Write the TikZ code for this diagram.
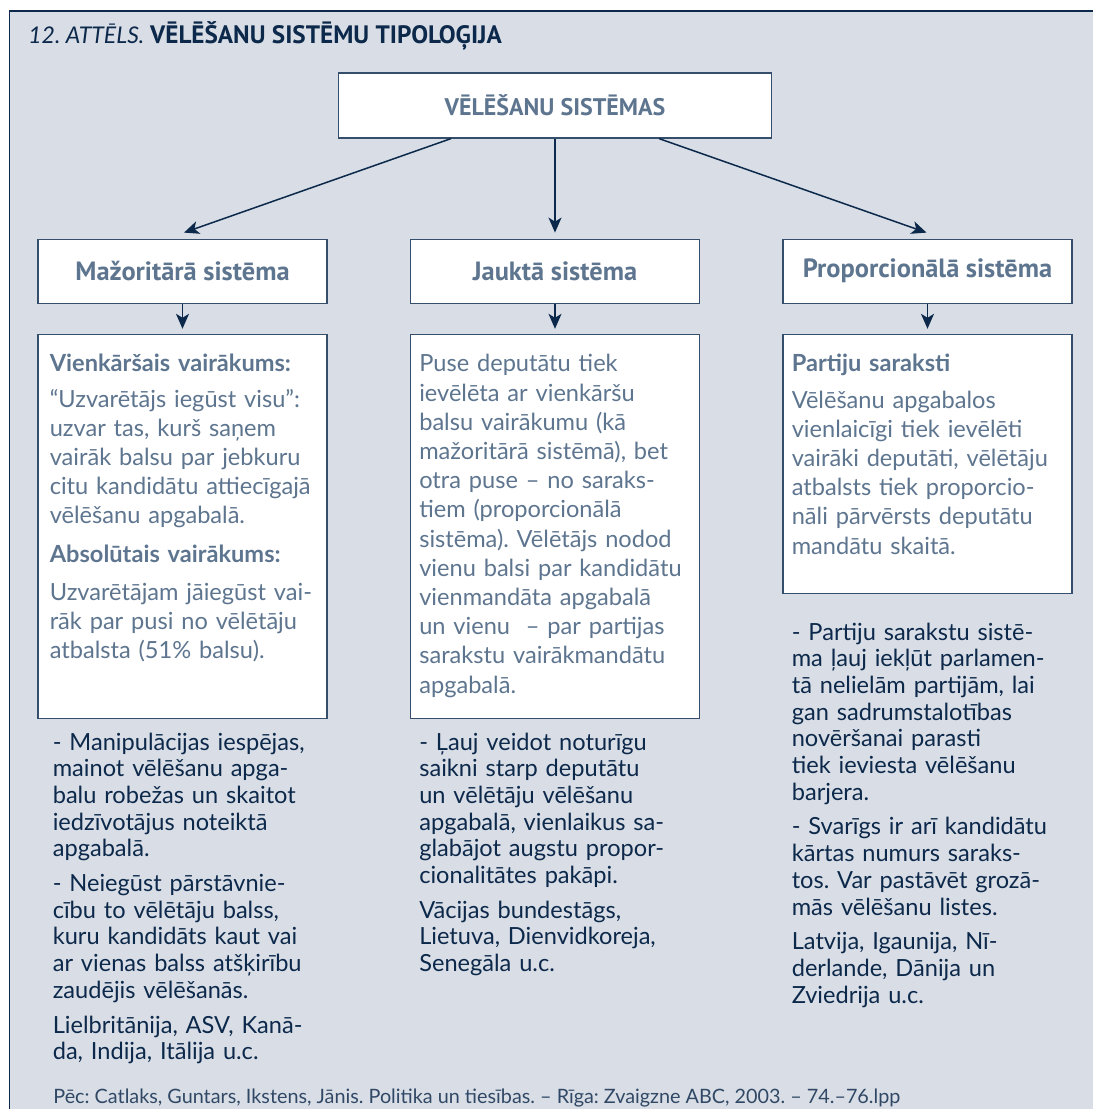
\documentclass[tikz,border=0pt]{standalone}
\usepackage{fontspec}
\setmainfont{Lato}
\newfontfamily\headfont{PT Sans}
\usetikzlibrary{arrows.meta, positioning}
\definecolor{panelbg}{RGB}{217,222,230}
\definecolor{navy}{RGB}{12,40,74}
\definecolor{slate}{RGB}{94,117,143}
\definecolor{framec}{RGB}{52,78,108}
\frenchspacing

\begin{document}
\begin{tikzpicture}[
  x=0.5pt, y=-0.5pt,
  >={Stealth[length=7.5pt,width=6.5pt,inset=2pt]},
  node distance=15pt,
  headbox/.style={
    rectangle,
    draw=framec, line width=0.6pt,
    fill=white,
    inner sep=0pt,
    text=slate,
    font=\headfont\bfseries\fontsize{12}{14}\selectfont
  },
  catbox/.style={headbox, minimum width=144.5pt, minimum height=32pt,
    font=\headfont\bfseries\fontsize{13.2}{15}\selectfont},
  descbox/.style={
    rectangle,
    draw=framec, line width=0.6pt,
    fill=white,
    minimum width=144.5pt,
    inner sep=0pt
  },
  desctext/.style={
    anchor=base west, inner sep=0pt,
    text width=139pt, align=left,
    text=slate,
    font=\fontsize{11.8}{14.6}\selectfont
  },
  notetext/.style={
    anchor=base west, inner sep=0pt,
    text width=139pt, align=left,
    text=navy,
    font=\fontsize{11.8}{13.35}\selectfont
  },
  arrow/.style={->, line width=0.75pt, draw=navy}
]
\useasboundingbox (0,0) rectangle (1093,1109);

% Panel
\fill[panelbg] (9.5,11) rectangle (1093,1109);
\draw[navy, line width=0.75pt] (9.5,1109) -- (9.5,11) -- (1093,11);

% Title
\node[anchor=base west, inner sep=0pt, text=navy, font=\fontsize{11.5}{14}\selectfont] (title) at (28,43)
  {\textit{12. ATTĒLS.} {\headfont\bfseries\fontsize{12.6}{14}\selectfont VĒLĒŠANU SISTĒMU TIPOLOĢIJA}};

% Top node
\node[headbox, minimum width=216.5pt, minimum height=32.5pt] (sys) at (555,105.5) {VĒLĒŠANU SISTĒMAS};

% Three systems
\node[catbox, below=50pt of sys, xshift=-186.25pt] (maj) {Mažoritārā sistēma};
\node[catbox, below=50pt of sys] (mix) {Jauktā sistēma};
\node[catbox, below=50pt of sys, xshift=186.25pt] (prop) {Proporcionālā sistēma};

% Description frames
\node[descbox, minimum height=192pt, below=of maj] (majframe) {};
\node[descbox, minimum height=192pt, below=of mix] (mixframe) {};
\node[descbox, minimum height=129.5pt, below=of prop] (propframe) {};

% Texts in frames
\node[desctext] (majtext) at ([xshift=6pt, yshift=-19pt]majframe.north west) {%
\textbf{Vienkāršais vairākums:}\\[3pt]
“Uzvarētājs iegūst visu”:\\
uzvar tas, kurš saņem\\
vairāk balsu par jebkuru\\
citu kandidātu attiecīgajā\\
vēlēšanu apgabalā.\\[4.5pt]
\textbf{Absolūtais vairākums:}\\[4.5pt]
Uzvarētājam jāiegūst vai-\\
rāk par pusi no vēlētāju\\
atbalsta (51\% balsu).%
};

\node[desctext] (mixtext) at ([xshift=4.5pt, yshift=-19pt]mixframe.north west) {%
Puse deputātu tiek\\
ievēlēta ar vienkāršu\\
balsu vairākumu (kā\\
mažoritārā sistēmā), bet\\
otra puse – no saraks-\\
tiem (proporcionālā\\
sistēma). Vēlētājs nodod\\
vienu balsi par kandidātu\\
vienmandāta apgabalā\\
un vienu~ – par partijas\\
sarakstu vairākmandātu\\
apgabalā.%
};

\node[desctext] (proptext) at ([xshift=4.5pt, yshift=-19pt]propframe.north west) {%
\textbf{Partiju saraksti}\\[3.5pt]
Vēlēšanu apgabalos\\
vienlaicīgi tiek ievēlēti\\
vairāki deputāti, vēlētāju\\
atbalsts tiek proporcio-\\
nāli pārvērsts deputātu\\
mandātu skaitā.%
};

% Notes below frames
\node[notetext] (majnote) at ([xshift=7.5pt, yshift=-15.5pt]majframe.south west) {%
- Manipulācijas iespējas,\\
mainot vēlēšanu apga-\\
balu robežas un skaitot\\
iedzīvotājus noteiktā\\
apgabalā.\\[4pt]
- Neiegūst pārstāvnie-\\
cību to vēlētāju balss,\\
kuru kandidāts kaut vai\\
ar vienas balss atšķirību\\
zaudējis vēlēšanās.\\[4pt]
Lielbritānija, ASV, Kanā-\\
da, Indija, Itālija u.c.%
};

\node[notetext] (mixnote) at ([xshift=4.5pt, yshift=-15.5pt]mixframe.south west) {%
- Ļauj veidot noturīgu\\
saikni starp deputātu\\
un vēlētāju vēlēšanu\\
apgabalā, vienlaikus sa-\\
glabājot augstu propor-\\
cionalitātes pakāpi.\\[4pt]
Vācijas bundestāgs,\\
Lietuva, Dienvidkoreja,\\
Senegāla u.c.%
};

\node[notetext] (propnote) at ([xshift=4.5pt, yshift=-23pt]propframe.south west) {%
- Partiju sarakstu sistē-\\
ma ļauj iekļūt parlamen-\\
tā nelielām partijām, lai\\
gan sadrumstalotības\\
novēršanai parasti\\
tiek ieviesta vēlēšanu\\
barjera.\\[4pt]
- Svarīgs ir arī kandidātu\\
kārtas numurs saraks-\\
tos. Var pastāvēt grozā-\\
mās vēlēšanu listes.\\[4pt]
Latvija, Igaunija, Nī-\\
derlande, Dānija un\\
Zviedrija u.c.%
};

% Source
\node[anchor=base west, inner sep=0pt, text=navy!85, font=\fontsize{9.9}{12}\selectfont] (source) at (53,1103)
  {Pēc: Catlaks, Guntars, Ikstens, Jānis. Politika un tiesības. – Rīga: Zvaigzne ABC, 2003. – 74.–76.lpp};

% Arrows
\draw[arrow] ([xshift=-52pt]sys.south) -- ([xshift=0.75pt, yshift=3pt]maj.north);
\draw[arrow] (sys.south) -- ([yshift=3pt]mix.north);
\draw[arrow] ([xshift=52pt]sys.south) -- ([xshift=-0.5pt, yshift=3pt]prop.north);
\draw[arrow] (maj.south) -- ([yshift=2.5pt]majframe.north);
\draw[arrow] (mix.south) -- ([yshift=2.5pt]mixframe.north);
\draw[arrow] (prop.south) -- ([yshift=2.5pt]propframe.north);

\end{tikzpicture}
\end{document}
